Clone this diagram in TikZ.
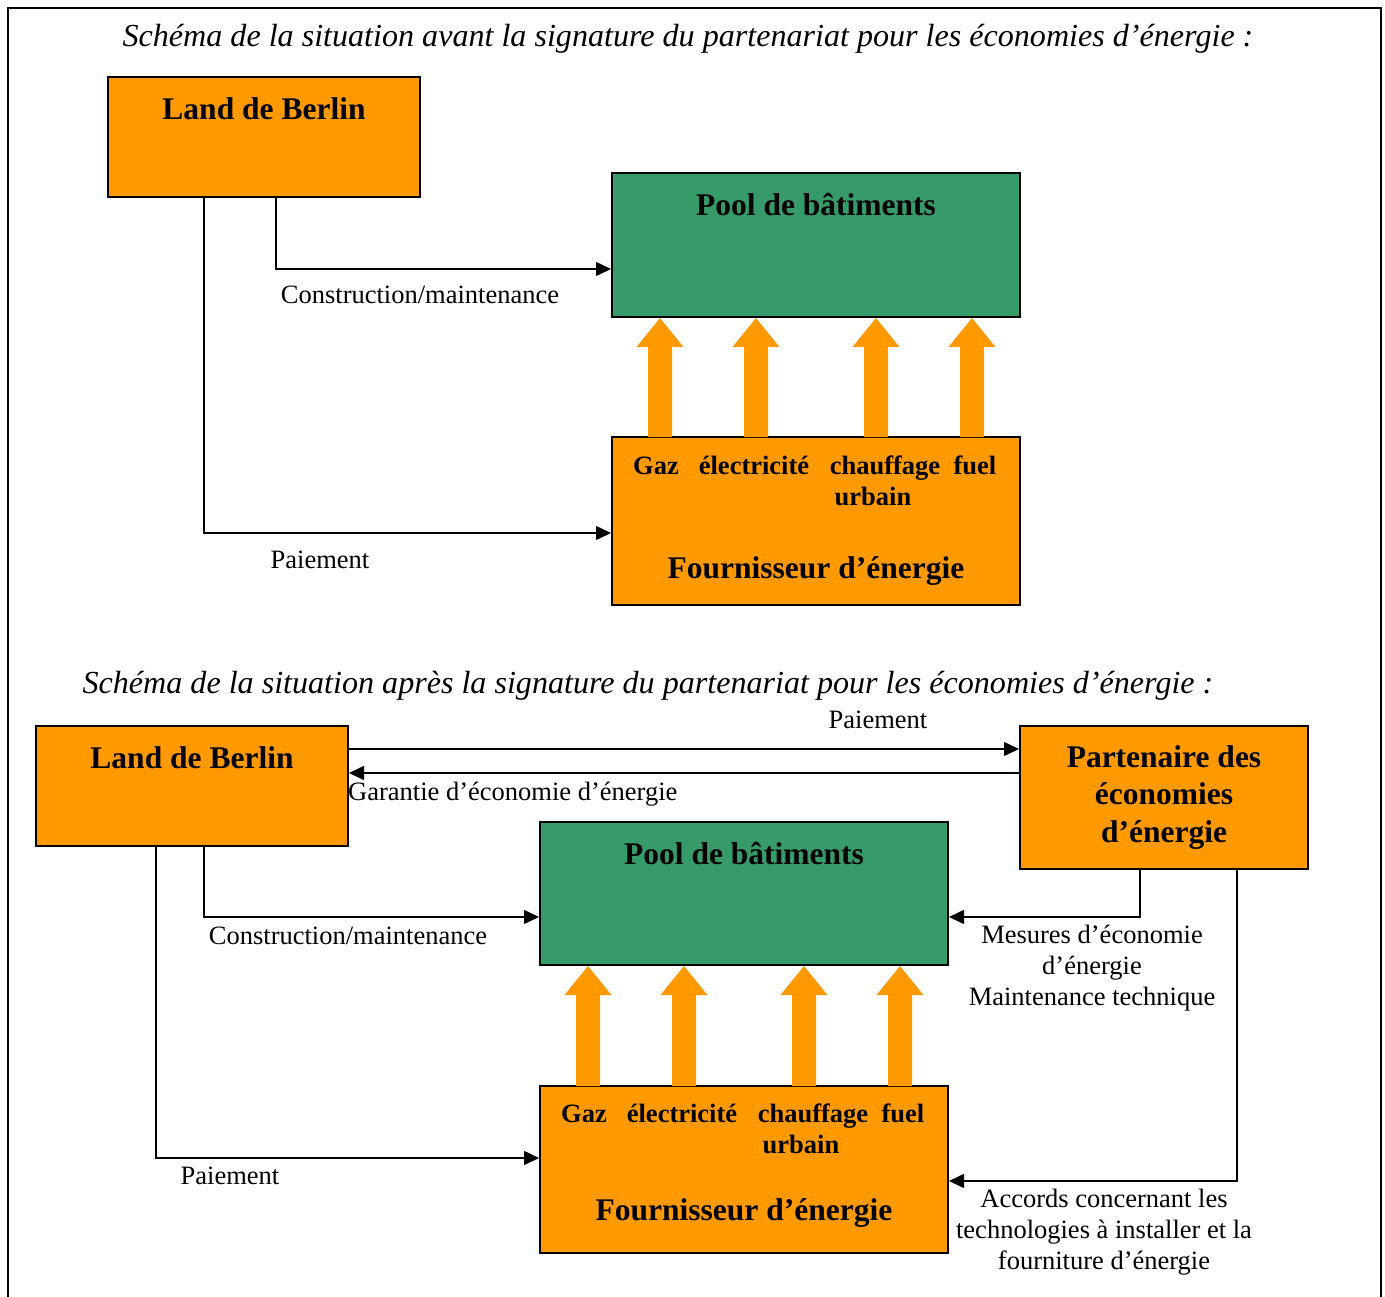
\documentclass[tikz,border=0pt]{standalone}
\usepackage{fontspec}
\setmainfont{Liberation Serif}
\usetikzlibrary{arrows.meta}
\definecolor{orangebox}{RGB}{255,153,0}
\definecolor{greenbox}{RGB}{55,154,105}
\begin{document}
\begin{tikzpicture}[x=1pt,y=-1pt,
  obox/.style={draw=black,line width=2pt,fill=orangebox,inner sep=0pt},
  gbox/.style={draw=black,line width=2pt,fill=greenbox,inner sep=0pt},
  conn/.style={line width=1.6pt,-{Triangle[length=15pt,width=14pt]}},
  body/.style={font=\fontsize{26.5}{31}\selectfont,inner sep=0pt,anchor=base},
  head/.style={font=\fontsize{31.5}{37.5}\selectfont\bfseries,inner sep=0pt,anchor=base},
  small/.style={font=\fontsize{26.5}{31}\selectfont\bfseries,inner sep=0pt,anchor=base},
  ttl/.style={font=\fontsize{32.1}{36}\selectfont\itshape,inner sep=0pt,anchor=base},
  blk/.style={fill=orangebox}]
\useasboundingbox (0,0) rectangle (1385,1297);
% frame
\draw[line width=2pt] (8,1297) -- (8,8) -- (1381,8) -- (1381,1297);

% ---------- top diagram ----------
\node[ttl] (t1) at (688,47) {Schéma de la situation avant la signature du partenariat pour les économies d’énergie :};
\node[obox,minimum width=312pt,minimum height=120pt] (land1) at (264,137) {};
\node[gbox,minimum width=408pt,minimum height=144pt] (pool1) at (816,245) {};
\node[obox,minimum width=408pt,minimum height=168pt] (four1) at (816,521) {};
\node[head] (land1t) at (264,120) {Land de Berlin};
\node[head] (pool1t) at (816,216) {Pool de bâtiments};
\node[small] (g1) at (656,474) {Gaz};
\node[small] (e1) at (754,474) {électricité};
\node[small] (c1) at (885,474) {chauffage};
\node[small] (u1) at (873,505) {urbain};
\node[small] (f1) at (975,474) {fuel};
\node[head] (four1t) at (816,578) {Fournisseur d’énergie};

\foreach \x in {660,756,876,972}{
  \fill[blk] (\x-12,437) -- (\x-12,347) -- (\x-23.5,347) -- (\x,318) -- (\x+23.5,347) -- (\x+12,347) -- (\x+12,437) -- cycle;
}

\coordinate (k1) at (276,269);
\coordinate (k2) at (204,533);
\draw[conn] (land1.south -| k1) |- (pool1.west |- k1);
\draw[conn] (land1.south -| k2) |- (four1.west |- k2);
\node[body] (l1) at (420,304) {Construction/maintenance};
\node[body] (l2) at (320,568) {Paiement};

% ---------- bottom diagram ----------
\node[ttl] (t2) at (648,693) {Schéma de la situation après la signature du partenariat pour les économies d’énergie :};
\node[obox,minimum width=312pt,minimum height=120pt] (land2) at (192,786) {};
\node[obox,minimum width=288pt,minimum height=143pt] (part) at (1164,797.5) {};
\node[gbox,minimum width=408pt,minimum height=143pt] (pool2) at (744,893.5) {};
\node[obox,minimum width=408pt,minimum height=167pt] (four2) at (744,1169.5) {};
\node[head] (land2t) at (192,768) {Land de Berlin};
\node[head] (partt1) at (1164,767) {Partenaire des};
\node[head] (partt2) at (1164,804) {économies};
\node[head] (partt3) at (1164,842) {d’énergie};
\node[head] (pool2t) at (744,864) {Pool de bâtiments};
\node[small] (g2) at (584,1122) {Gaz};
\node[small] (e2) at (682,1122) {électricité};
\node[small] (c2) at (813,1122) {chauffage};
\node[small] (u2) at (801,1153) {urbain};
\node[small] (f2) at (903,1122) {fuel};
\node[head] (four2t) at (744,1220) {Fournisseur d’énergie};

\foreach \x in {588,684,804,900}{
  \fill[blk] (\x-12,1086) -- (\x-12,995) -- (\x-23.5,995) -- (\x,966) -- (\x+23.5,995) -- (\x+12,995) -- (\x+12,1086) -- cycle;
}

\coordinate (m1) at (0,749);
\coordinate (m2) at (0,773);
\coordinate (m3) at (204,917);
\coordinate (m4) at (156,1158);
\coordinate (m5) at (1140,917);
\coordinate (m6) at (1237,1181);
\draw[conn] (land2.east |- m1) -- (part.west |- m1);
\draw[conn] (part.west |- m2) -- (land2.east |- m2);
\draw[conn] (land2.south -| m3) |- (pool2.west |- m3);
\draw[conn] (land2.south -| m4) |- (four2.west |- m4);
\draw[conn] (part.south -| m5) |- (pool2.east |- m5);
\draw[conn] (part.south -| m6) |- (four2.east |- m6);

\node[body] (p1) at (878,728) {Paiement};
\node[body,anchor=base west] (gar) at (348,800) {Garantie d’économie d’énergie};
\node[body] (cm2) at (348,944) {Construction/maintenance};
\node[body] (p2) at (230,1184) {Paiement};
\node[body] (mes1) at (1092,943) {Mesures d’économie};
\node[body] (mes2) at (1092,974) {d’énergie};
\node[body] (mes3) at (1092,1005) {Maintenance technique};
\node[body] (acc1) at (1104,1207) {Accords concernant les};
\node[body] (acc2) at (1104,1238) {technologies à installer et la};
\node[body] (acc3) at (1104,1269) {fourniture d’énergie};
\end{tikzpicture}
\end{document}
